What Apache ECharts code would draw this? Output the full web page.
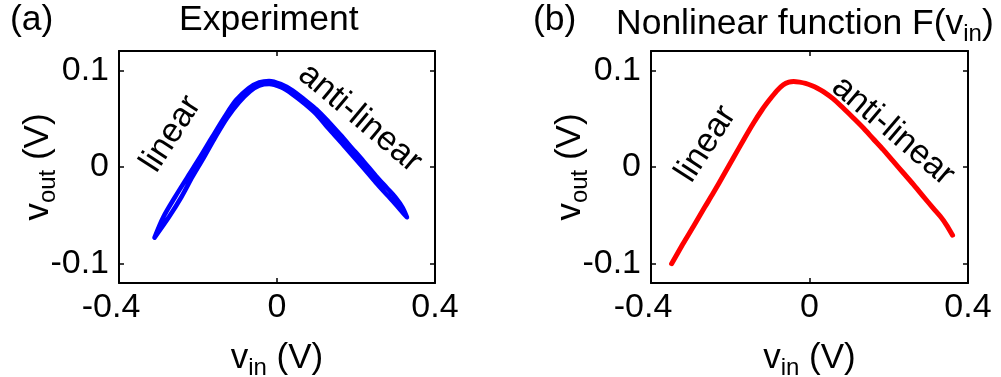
<!DOCTYPE html>
<html>
<head>
<meta charset="utf-8">
<script src="https://cdn.jsdelivr.net/npm/echarts@6/dist/echarts.min.js"></script>
<style>
html,body{margin:0;padding:0;background:#fff;}
#chart{width:1001px;height:377px;}
</style>
</head>
<body>
<div id="chart"></div>
<script>
// ---- data ----
const xTicks = [-0.4, 0, 0.4];
const yTicks = [-0.1, 0, 0.1];

// (a) measured hysteresis loop: outer branch then return branch
const expLoopVin = [-0.310,-0.288,-0.258,-0.226,-0.195,-0.164,-0.134,-0.104,-0.072,-0.045,-0.020,0.010,0.040,0.070,0.100,0.130,0.160,0.190,0.220,0.250,0.280,0.300,0.318,0.329,
  0.318,0.300,0.280,0.250,0.220,0.190,0.160,0.130,0.100,0.070,0.040,0.010,-0.020,-0.045,-0.068,-0.096,-0.126,-0.156,-0.185,-0.214,-0.242,-0.274,-0.310];
const expLoopVout = [-0.073,-0.052,-0.031,-0.010,0.010,0.031,0.051,0.069,0.0815,0.0875,0.089,0.0857,0.079,0.0695,0.0595,0.047,0.0335,0.0195,0.0055,-0.009,-0.0225,-0.0315,-0.042,-0.052,
  -0.047,-0.0385,-0.0295,-0.016,-0.0015,0.0125,0.0265,0.040,0.0545,0.0655,0.075,0.0825,0.086,0.0843,0.0785,0.067,0.051,0.031,0.010,-0.010,-0.031,-0.052,-0.073];

// (b) nonlinear function F(vin)
const funcVin = [-0.348,-0.320,-0.293,-0.265,-0.243,-0.215,-0.192,-0.165,-0.142,-0.120,-0.100,-0.082,-0.066,-0.052,-0.040,-0.025,-0.010,0.005,0.020,0.035,0.060,0.085,0.110,0.136,0.160,0.186,0.210,0.237,0.262,0.287,0.312,0.330,0.345,0.361];
const funcVout = [-0.100,-0.080,-0.0615,-0.042,-0.027,-0.007,0.0095,0.029,0.045,0.059,0.070,0.079,0.0850,0.0878,0.0885,0.0878,0.0865,0.0843,0.0815,0.078,0.0705,0.061,0.051,0.0403,0.0295,0.0179,0.0065,-0.0062,-0.018,-0.0304,-0.0425,-0.051,-0.0595,-0.0705];

const panelLetters = ['(a)', '(b)'];
const panelTitles = ['Experiment', 'Nonlinear function F(v{s|in})'];
const xName = 'v{s|in} (V)';
const yName = 'v{s|out} (V)';
const annoLinear = 'linear';
const annoAnti = 'anti-linear';

// ---- chart ----
const FONT = 'Liberation Sans, Arial, Helvetica, sans-serif';
const pairs = (xs, ys) => xs.map((x, i) => [x, ys[i]]);
const subRich = { s: { fontSize: 24, fontFamily: FONT, color: '#000', padding: [20, 0, 0, 0], verticalAlign: 'middle' } };

function xAxisMain(gi) {
  return {
    gridIndex: gi, type: 'value', position: 'bottom', min: -0.4, max: 0.4, interval: 0.4,
    splitLine: { show: false },
    axisLine: { show: true, onZero: false, lineStyle: { color: '#000', width: 2 } },
    axisTick: { show: true, inside: true, length: 5, lineStyle: { color: '#000', width: 1.5 } },
    axisLabel: {
      show: true, fontSize: 34, fontFamily: FONT, color: '#000', margin: 8,
      formatter: v => (v < 0 ? '{n|' + v + '}' : String(v)),
      rich: { n: { fontSize: 34, fontFamily: FONT, color: '#000', padding: [0, 16, 0, 0] } }
    },
    name: xName, nameLocation: 'middle', nameGap: 53, nameMoveOverlap: false,
    nameTextStyle: { fontSize: 35, fontFamily: FONT, color: '#000', rich: subRich }
  };
}
function xAxisTop(gi) {
  return {
    gridIndex: gi, type: 'value', position: 'top', min: -0.4, max: 0.4, interval: 0.4,
    splitLine: { show: false },
    axisLine: { show: true, onZero: false, lineStyle: { color: '#000', width: 2 } },
    axisTick: { show: true, inside: true, length: 5, lineStyle: { color: '#000', width: 1.5 } },
    axisLabel: { show: false }
  };
}
function yAxisMain(gi) {
  return {
    gridIndex: gi, type: 'value', position: 'left', min: -0.12, max: 0.12,
    splitLine: { show: false },
    axisLine: { show: true, onZero: false, lineStyle: { color: '#000', width: 2 } },
    axisTick: { show: true, inside: true, length: 5, customValues: yTicks, lineStyle: { color: '#000', width: 1.5 } },
    axisLabel: { show: true, customValues: yTicks, fontSize: 34, fontFamily: FONT, color: '#000', margin: 10 },
    name: yName, nameLocation: 'middle', nameGap: 59, nameRotate: 90, nameMoveOverlap: false,
    nameTextStyle: { fontSize: 35, fontFamily: FONT, color: '#000', rich: subRich }
  };
}
function yAxisRight(gi) {
  return {
    gridIndex: gi, type: 'value', position: 'right', min: -0.12, max: 0.12,
    splitLine: { show: false },
    axisLine: { show: true, onZero: false, lineStyle: { color: '#000', width: 2 } },
    axisTick: { show: true, inside: true, length: 5, customValues: yTicks, lineStyle: { color: '#000', width: 1.5 } },
    axisLabel: { show: false }
  };
}

const titleStyle = { fontSize: 35.5, fontWeight: 'normal', fontFamily: FONT, color: '#000',
  rich: { s: { fontSize: 24, fontFamily: FONT, color: '#000', padding: [20, 0, 0, 0], verticalAlign: 'middle' } } };

function anno(text, x, y, rot) {
  return { type: 'text', x: x, y: y, rotation: rot, z: 100,
    style: { text: text, fontSize: 34, fontFamily: FONT, fill: '#000', align: 'center', verticalAlign: 'middle' } };
}

const chart = echarts.init(document.getElementById('chart'), null, { renderer: 'canvas', width: 1001, height: 377 });
chart.setOption({
  backgroundColor: '#fff',
  animation: false,
  title: [
    { text: panelLetters[0], left: 10, top: 2, padding: 0, textStyle: titleStyle },
    { text: panelTitles[0], left: 179, top: 2, padding: 0, textStyle: titleStyle },
    { text: panelLetters[1], left: 533, top: 2, padding: 0, textStyle: titleStyle },
    { text: panelTitles[1], left: 616, top: 2, padding: 0, textStyle: titleStyle }
  ],
  grid: [
    { left: 119, top: 51, width: 316, height: 232, containLabel: false, outerBoundsMode: 'none' },
    { left: 651, top: 51, width: 317, height: 232, containLabel: false, outerBoundsMode: 'none' }
  ],
  xAxis: [xAxisMain(0), xAxisTop(0), xAxisMain(1), xAxisTop(1)],
  yAxis: [yAxisMain(0), yAxisRight(0), yAxisMain(1), yAxisRight(1)],
  series: [
    { type: 'line', xAxisIndex: 0, yAxisIndex: 0, data: pairs(expLoopVin, expLoopVout),
      showSymbol: false, smooth: 0.3, clip: false,
      lineStyle: { color: '#0000ff', width: 4.6, cap: 'round', join: 'round' } },
    { type: 'line', xAxisIndex: 2, yAxisIndex: 2, data: pairs(funcVin, funcVout),
      showSymbol: false, smooth: 0.3, clip: false,
      lineStyle: { color: '#ff0000', width: 5, cap: 'round', join: 'round' } }
  ],
  graphic: [
    anno(annoLinear, 171, 134, 57 * Math.PI / 180),
    anno(annoAnti, 360, 118, -40 * Math.PI / 180),
    anno(annoLinear, 706, 144, 57 * Math.PI / 180),
    anno(annoAnti, 893, 131, -40.5 * Math.PI / 180)
  ]
});
</script>
</body>
</html>
